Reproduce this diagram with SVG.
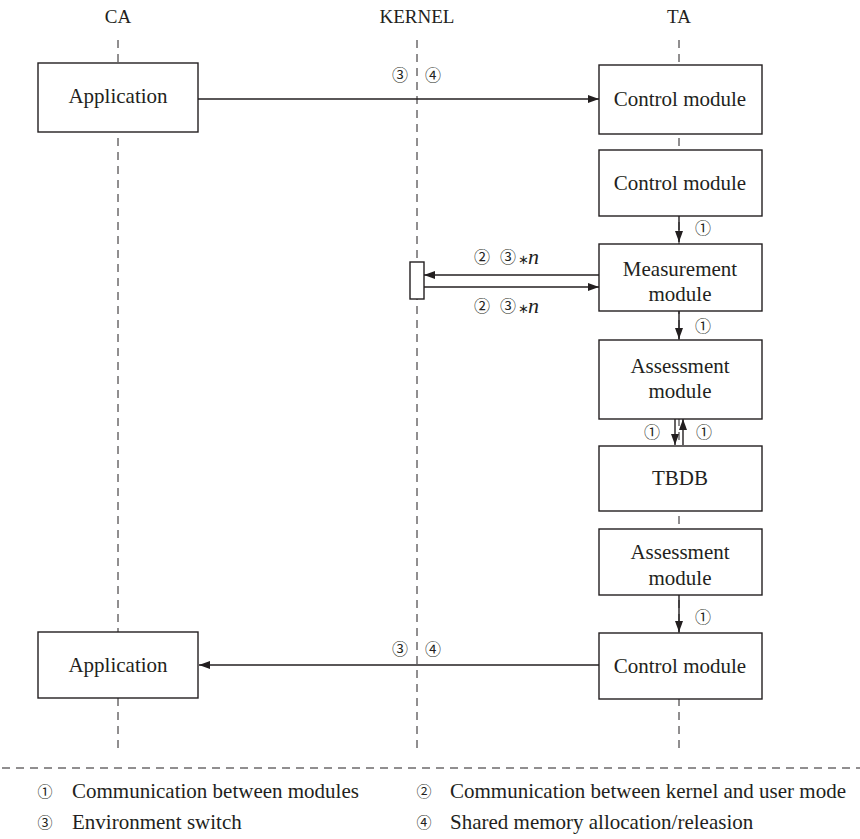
<svg xmlns="http://www.w3.org/2000/svg" width="860" height="839" viewBox="0 0 860 839">
  <style>
    .lbl { font-family: "Liberation Serif", "Times New Roman", serif; font-size: 21px; fill: #231f20; text-anchor: middle; }
    .head { font-family: "Liberation Serif", "Times New Roman", serif; font-size: 19px; fill: #231f20; text-anchor: middle; }
    .leg { font-family: "Liberation Serif", "Times New Roman", serif; font-size: 21px; fill: #231f20; }
    .num { font-family: "Noto Sans CJK SC", "DejaVu Sans", sans-serif; font-size: 16px; fill: #231f20; text-anchor: middle; }
    .lnum { font-family: "Noto Sans CJK SC", "DejaVu Sans", sans-serif; font-size: 15px; fill: #231f20; text-anchor: middle; }
    .ast { font-family: "DejaVu Sans", sans-serif; font-size: 13px; fill: #231f20; }
    .it { font-family: "Liberation Serif", "Times New Roman", serif; font-size: 22px; font-style: italic; fill: #231f20; }
    .box { fill: #ffffff; stroke: #231f20; stroke-width: 1.4; }
    .life { stroke: #231f20; stroke-width: 1; stroke-dasharray: 8 6; fill: none; }
    .conn { stroke: #231f20; stroke-width: 1.4; fill: none; }
  </style>
  <defs>
    <marker id="arrow" viewBox="0 0 11 8" refX="11" refY="4" markerWidth="11" markerHeight="8" markerUnits="userSpaceOnUse" orient="auto">
      <path d="M0,0 L11,4 L0,8 Z" fill="#231f20"/>
    </marker>
  </defs>
  <rect width="860" height="839" fill="#ffffff"/>

  <!-- column headings -->
  <text class="head" x="118" y="23">CA</text>
  <text class="head" x="417" y="23">KERNEL</text>
  <text class="head" x="679" y="23">TA</text>

  <!-- lifelines -->
  <g id="lifelines">
    <line class="life" x1="118" y1="40" x2="118" y2="752"/>
    <line class="life" x1="417" y1="40" x2="417" y2="752"/>
    <line class="life" x1="679" y1="40" x2="679" y2="752"/>
  </g>

  <!-- connectors -->
  <g id="connectors">
    <line class="conn" x1="198" y1="99" x2="599" y2="99" marker-end="url(#arrow)"/>
    <line class="conn" x1="679" y1="216" x2="679" y2="242" marker-end="url(#arrow)"/>
    <line class="conn" x1="599" y1="275" x2="424" y2="275" marker-end="url(#arrow)"/>
    <line class="conn" x1="424" y1="287" x2="599" y2="287" marker-end="url(#arrow)"/>
    <line class="conn" x1="679" y1="311" x2="679" y2="339" marker-end="url(#arrow)"/>
    <line class="conn" x1="675" y1="419" x2="675" y2="445" marker-end="url(#arrow)"/>
    <line class="conn" x1="683" y1="445" x2="683" y2="419" marker-end="url(#arrow)"/>
    <line class="conn" x1="679" y1="595" x2="679" y2="632" marker-end="url(#arrow)"/>
    <line class="conn" x1="599" y1="665" x2="199" y2="665" marker-end="url(#arrow)"/>
  </g>

  <!-- connector labels -->
  <g id="connector-labels">
    <text class="num" x="400" y="81">③</text>
    <text class="num" x="433" y="81">④</text>
    <text class="num" x="703" y="234">①</text>
    <text class="num" x="482" y="263">②</text>
    <text class="num" x="508" y="263">③</text>
    <text class="ast" x="518" y="264">∗</text>
    <text class="it" x="528" y="264">n</text>
    <text class="num" x="482" y="312">②</text>
    <text class="num" x="508" y="312">③</text>
    <text class="ast" x="518" y="313">∗</text>
    <text class="it" x="528" y="313">n</text>
    <text class="num" x="703" y="332">①</text>
    <text class="num" x="652" y="438">①</text>
    <text class="num" x="704" y="438">①</text>
    <text class="num" x="703" y="623">①</text>
    <text class="num" x="400" y="655">③</text>
    <text class="num" x="433" y="655">④</text>
  </g>

  <!-- nodes -->
  <g id="app-top">
    <rect class="box" x="38" y="63" width="160" height="69"/>
    <text class="lbl" x="118" y="103">Application</text>
  </g>
  <g id="control-1">
    <rect class="box" x="599" y="65" width="163" height="69"/>
    <text class="lbl" x="680" y="106">Control module</text>
  </g>
  <g id="control-2">
    <rect class="box" x="599" y="150" width="163" height="66"/>
    <text class="lbl" x="680" y="190">Control module</text>
  </g>
  <g id="kernel-activation">
    <rect class="box" x="410" y="262" width="14" height="37"/>
  </g>
  <g id="measurement">
    <rect class="box" x="599" y="244" width="163" height="67"/>
    <text class="lbl" x="680" y="276">Measurement</text>
    <text class="lbl" x="680" y="301">module</text>
  </g>
  <g id="assessment-1">
    <rect class="box" x="599" y="340" width="163" height="79"/>
    <text class="lbl" x="680" y="373">Assessment</text>
    <text class="lbl" x="680" y="398">module</text>
  </g>
  <g id="tbdb">
    <rect class="box" x="599" y="446" width="163" height="65"/>
    <text class="lbl" x="680" y="485">TBDB</text>
  </g>
  <g id="assessment-2">
    <rect class="box" x="599" y="529" width="163" height="66"/>
    <text class="lbl" x="680" y="559">Assessment</text>
    <text class="lbl" x="680" y="585">module</text>
  </g>
  <g id="control-3">
    <rect class="box" x="599" y="633" width="163" height="66"/>
    <text class="lbl" x="680" y="673">Control module</text>
  </g>
  <g id="app-bottom">
    <rect class="box" x="38" y="632" width="160" height="66"/>
    <text class="lbl" x="118" y="672">Application</text>
  </g>

  <!-- legend -->
  <line class="life" x1="2" y1="768" x2="860" y2="768" stroke-dasharray="7 5"/>
  <g id="legend">
    <text class="lnum" x="45" y="797">①</text>
    <text class="leg" x="72" y="798">Communication between modules</text>
    <text class="lnum" x="424" y="797">②</text>
    <text class="leg" x="450" y="798">Communication between kernel and user mode</text>
    <text class="lnum" x="45" y="828">③</text>
    <text class="leg" x="72" y="829">Environment switch</text>
    <text class="lnum" x="424" y="828">④</text>
    <text class="leg" x="450" y="829">Shared memory allocation/releasion</text>
  </g>
</svg>
